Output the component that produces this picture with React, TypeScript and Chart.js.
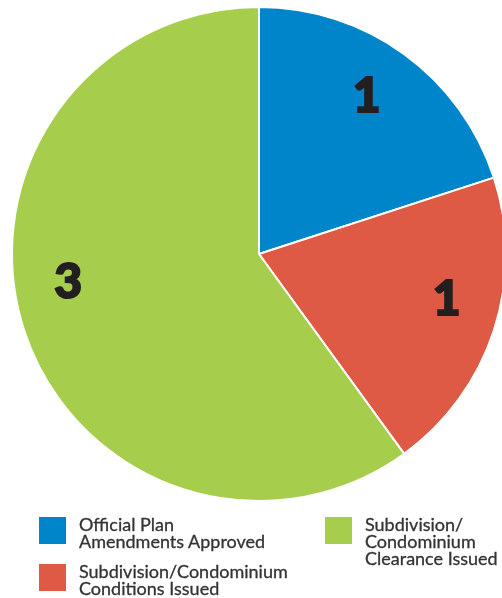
import React, { useEffect, useRef } from "react";
import { Chart, registerables } from "chart.js";

Chart.register(...registerables);

const categories = [
  ["Official Plan", "Amendments Approved"],
  ["Subdivision/Condominium", "Conditions Issued"],
  ["Subdivision/", "Condominium", "Clearance Issued"],
];
const values = [1, 1, 3];
const colors = ["#0085CA", "#DE5A44", "#A7CD4C"];
const labelAngleShift = [-2, -5, 10];

const labelPlugin = {
  id: "sliceLabels",
  afterDatasetsDraw(chart: any) {
    const meta = chart.getDatasetMeta(0);
    const ctx = chart.ctx;
    ctx.save();
    ctx.fillStyle = "#231F20";
    ctx.strokeStyle = "#231F20";
    ctx.lineWidth = 2;
    ctx.lineJoin = "miter";
    ctx.font = "900 48px Lato";
    ctx.textAlign = "center";
    ctx.textBaseline = "middle";
    meta.data.forEach((arc: any, i: number) => {
      const p = arc.getProps(["x", "y", "startAngle", "endAngle", "outerRadius"], true);
      const mid = (p.startAngle + p.endAngle) / 2 + (labelAngleShift[i] * Math.PI) / 180;
      const r = p.outerRadius * 0.78;
      const x = p.x + Math.cos(mid) * r;
      const y = p.y + Math.sin(mid) * r + 2;
      ctx.fillText(String(values[i]), x, y);
      ctx.strokeText(String(values[i]), x, y);
    });
    ctx.restore();
  },
};

export default function App() {
  const ref = useRef<HTMLCanvasElement>(null);
  useEffect(() => {
    const chart = new Chart(ref.current!, {
      type: "pie",
      data: {
        labels: categories.map((c) => c.join(" ")),
        datasets: [
          {
            data: values,
            backgroundColor: colors,
            borderColor: "#ffffff",
            borderWidth: 2,
          },
        ],
      },
      options: {
        responsive: false,
        animation: false,
        layout: { padding: { left: 11, top: 6, right: 13, bottom: 96 } },
        plugins: { legend: { display: false }, tooltip: { enabled: false } },
      },
      plugins: [labelPlugin],
    });
    return () => chart.destroy();
  }, []);

  const legendPos = [
    { left: 39, top: 517 },
    { left: 39, top: 564 },
    { left: 325, top: 517 },
  ];

  return (
    <div style={{ position: "absolute", left: 0, top: 0, width: 502, height: 598, overflow: "hidden", background: "#fff" }}>
      <canvas ref={ref} width={520} height={598} style={{ position: "absolute", left: 0, top: 0 }} />
      {categories.map((lines, i) => (
        <div key={i} style={{ position: "absolute", left: legendPos[i].left, top: legendPos[i].top, display: "flex" }}>
          <div style={{ width: 27, height: 27, background: colors[i], flex: "none" }} />
          <div
            style={{
              marginLeft: 13,
              marginTop: -1,
              fontFamily: "Lato",
              fontSize: 18,
              lineHeight: "17px",
              color: "#333333",
              whiteSpace: "nowrap",
              WebkitTextStroke: "0.3px #333333",
            }}
          >
            {lines.map((l, j) => (
              <div key={j}>{l}</div>
            ))}
          </div>
        </div>
      ))}
    </div>
  );
}
